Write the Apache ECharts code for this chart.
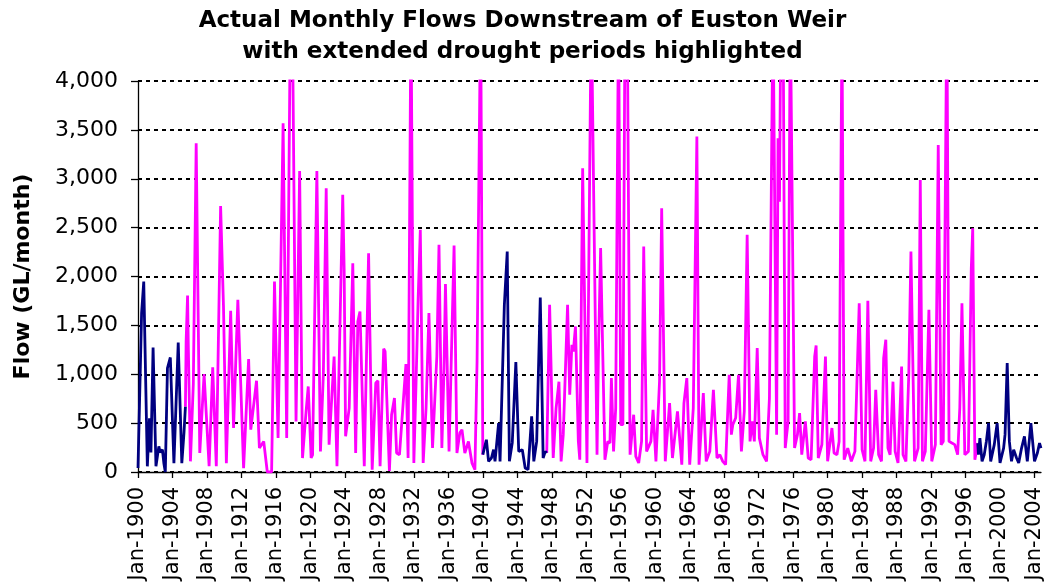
<!DOCTYPE html>
<html>
<head>
<meta charset="utf-8">
<script src="https://cdn.jsdelivr.net/npm/echarts@6/dist/echarts.min.js"></script>
<style>
html,body{margin:0;padding:0;background:#fff;}
#chart{width:1045px;height:584px;}
</style>
</head>
<body>
<div id="chart"></div>
<script>
// ---- Data (month offset from Jan-1900, flow in GL/month) ----
const MONTH_NAMES = ['Jan','Feb','Mar','Apr','May','Jun','Jul','Aug','Sep','Oct','Nov','Dec'];
const START_YEAR = 1900;
const MONTH_COUNT = 1258; // Jan-1900 .. Oct-2004

// extended drought period 1900-1905
const drought1900 = [[0,40],[5,1625],[8,1949],[13,58],[16,550],[18,200],[21,1274],[25,58],[29,262],[31,200],[34,228],[36,90],[38,0],[41,1063],[42,1080],[45,1172],[50,90],[56,1325],[61,90],[64,400],[66,668]];

// 1905-1940
const flows1905 = [[66,668],[67,1336],[69,1806],[70,1300],[73,109],[77,900],[81,3363],[86,194],[92,1002],[99,60],[104,1070],[109,60],[115,2722],[119,1693],[123,90],[129,1649],[133,450],[135,893],[139,1761],[147,40],[154,1155],[157,433],[165,934],[169,245],[175,313],[180,0],[186,0],[190,1949],[195,347],[202,3567],[207,347],[212,4600],[215,4600],[220,518],[225,3080],[229,143],[234,620],[237,875],[241,143],[243,175],[249,3080],[254,211],[258,995],[262,2903],[266,280],[273,1182],[277,58],[285,2835],[287,2068],[289,365],[294,654],[299,2136],[303,194],[306,1540],[309,1642],[315,58],[321,2238],[326,24],[331,910],[334,934],[337,58],[342,1261],[344,1233],[350,10],[353,586],[357,756],[360,194],[364,177],[373,1104],[376,143],[380,4800],[384,92],[387,893],[390,1778],[393,2477],[397,92],[401,654],[405,1625],[410,245],[416,1182],[419,2324],[423,245],[426,1063],[428,1922],[433,211],[440,2317],[444,194],[448,400],[451,433],[455,194],[460,313],[465,90],[469,24],[472,1131],[477,4800],[480,177]];

// extended drought period 1940-1947
const drought1940 = [[480,177],[481,177],[485,330],[488,109],[492,143],[495,228],[497,109],[502,500],[504,109],[510,1710],[514,2255],[517,109],[521,300],[526,1124],[530,211],[535,228],[539,41],[543,24],[548,569],[551,109],[555,313],[560,1785],[564,143],[567,211],[569,194]];

// 1947-1997
const flows1947 = [[569,194],[573,1710],[578,143],[582,654],[586,924],[589,109],[592,382],[598,1710],[601,790],[604,1301],[606,1233],[609,1489],[613,313],[615,126],[619,3107],[625,92],[631,4800],[634,3039],[639,177],[641,1233],[644,2290],[650,126],[654,313],[657,296],[659,961],[662,211],[665,654],[669,4800],[672,484],[675,484],[678,4800],[681,4800],[685,177],[690,586],[693,160],[697,92],[701,313],[704,2306],[708,211],[714,313],[717,637],[721,109],[726,924],[729,2698],[734,109],[740,705],[744,143],[751,620],[757,75],[760,705],[764,961],[768,75],[773,654],[778,3431],[781,75],[787,807],[791,109],[796,211],[801,841],[803,824],[806,143],[810,177],[814,109],[818,75],[823,995],[826,382],[828,484],[832,552],[836,995],[840,211],[844,620],[848,2426],[852,313],[855,518],[858,313],[862,1267],[865,347],[870,177],[875,109],[879,756],[884,4800],[889,382],[891,3414],[893,2766],[895,4800],[898,4800],[901,245],[905,518],[908,4800],[910,4800],[914,245],[918,382],[921,603],[924,177],[929,518],[933,143],[937,126],[942,1182],[944,1295],[947,143],[952,280],[957,1182],[960,109],[966,450],[969,194],[973,177],[976,313],[980,4600],[983,126],[988,245],[993,109],[998,211],[1004,1727],[1008,228],[1012,109],[1016,1751],[1020,109],[1024,245],[1027,841],[1031,177],[1035,109],[1038,1165],[1041,1353],[1044,245],[1047,177],[1051,924],[1054,211],[1058,92],[1063,1080],[1065,177],[1069,109],[1073,1000],[1076,2255],[1081,109],[1086,245],[1089,2988],[1092,109],[1096,211],[1101,1659],[1105,109],[1110,280],[1114,3346],[1118,280],[1121,313],[1126,4800],[1129,313],[1133,296],[1137,280],[1141,177],[1144,654],[1147,1727],[1151,177],[1156,211],[1160,2085],[1162,2494],[1165,126],[1169,296]];

// extended drought period 1997-2004
const drought1997 = [[1169,296],[1170,177],[1172,347],[1175,109],[1178,177],[1181,313],[1184,500],[1187,109],[1192,280],[1196,500],[1200,92],[1205,245],[1207,382],[1210,1114],[1213,313],[1216,109],[1219,228],[1223,143],[1226,92],[1230,245],[1234,365],[1238,109],[1243,500],[1248,109],[1252,194],[1255,296],[1257,245]];

const Y_TICKS = [0,500,1000,1500,2000,2500,3000,3500,4000];

// ---- Build categories ----
const categories = [];
for (let i = 0; i < MONTH_COUNT; i++) {
  categories.push(MONTH_NAMES[i % 12] + '-' + (START_YEAR + Math.floor(i / 12)));
}
const toSeriesData = arr => arr.map(([m, v]) => [categories[m], v]);

const DROUGHT = '#000080';
const NORMAL = '#FF00FF';

function lineSeries(name, arr, color) {
  return {
    name: name, type: 'line', data: toSeriesData(arr),
    showSymbol: false, symbol: 'none', clip: true, smooth: false,
    lineStyle: { color: color, width: 2.8 }, itemStyle: { color: color },
    animation: false
  };
}

const chart = echarts.init(document.getElementById('chart'), null, { renderer: 'canvas' });
chart.setOption({
  animation: false,
  backgroundColor: '#ffffff',
  title: {
    text: 'Actual Monthly Flows Downstream of Euston Weir\nwith extended drought periods highlighted',
    left: 'center', top: 6, padding: [0, 0, 0, 38],
    textStyle: { fontFamily: 'DejaVu Sans', fontWeight: 'bold', fontSize: 23, lineHeight: 31, color: '#000' }
  },
  grid: { left: 138, right: 2, top: 81, bottom: 112, containLabel: false },
  xAxis: {
    type: 'category', data: categories, boundaryGap: false,
    axisLine: { show: true, lineStyle: { color: '#000', width: 1.3 } },
    axisTick: { show: true, interval: 47, length: 6, lineStyle: { color: '#000', width: 1.3 } },
    axisLabel: { interval: 47, rotate: 90, margin: 15, fontFamily: 'DejaVu Sans', fontSize: 21, color: '#000' },
    splitLine: { show: false }
  },
  yAxis: {
    type: 'value', min: 0, max: 4000, interval: 500,
    name: 'Flow (GL/month)', nameLocation: 'middle', nameGap: 104,
    nameTextStyle: { fontFamily: 'DejaVu Sans', fontWeight: 'bold', fontSize: 22, color: '#000' },
    axisLine: { show: true, lineStyle: { color: '#000', width: 1.3 } },
    axisTick: { show: true, length: 7, lineStyle: { color: '#000', width: 1.3 } },
    axisLabel: { margin: 20, fontFamily: 'DejaVu Sans', fontSize: 22, color: '#000',
      formatter: v => Y_TICKS.indexOf(v) >= 0 ? v.toLocaleString('en-US') : '' },
    splitLine: { show: true, lineStyle: { color: '#000', width: 2, type: [4, 4] } }
  },
  series: [
    lineSeries('Flow', flows1905, NORMAL),
    lineSeries('Flow ', flows1947, NORMAL),
    lineSeries('Drought 1900-1905', drought1900, DROUGHT),
    lineSeries('Drought 1940-1947', drought1940, DROUGHT),
    lineSeries('Drought 1997-2004', drought1997, DROUGHT)
  ]
});
</script>
</body>
</html>
